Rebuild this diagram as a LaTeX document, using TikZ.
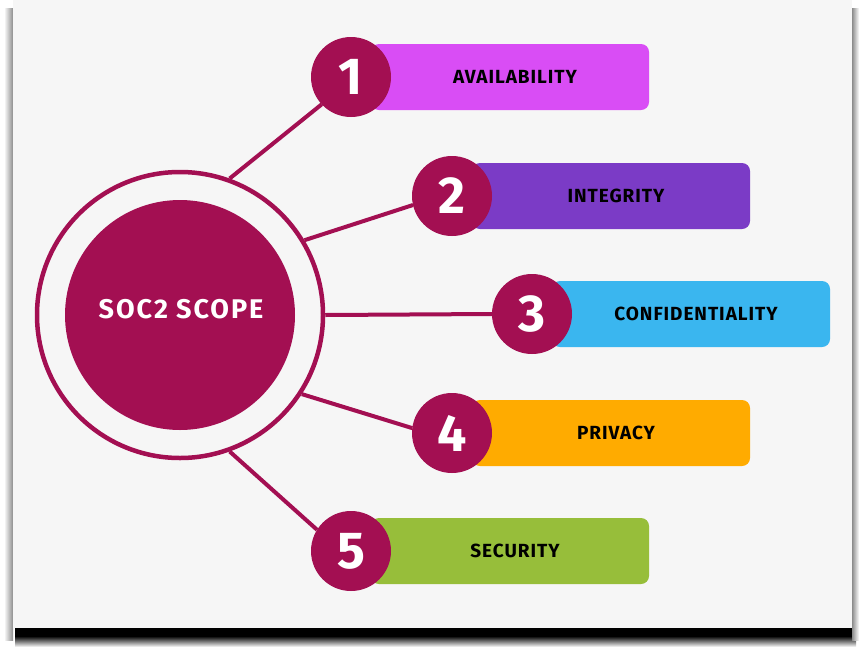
\documentclass[tikz,border=0pt]{standalone}
\usepackage{fontspec}
\setmainfont{Fira Sans}
\usetikzlibrary{positioning,backgrounds}
\usepackage{xcolor}
\definecolor{socred}{HTML}{A30F52}
\definecolor{panelgray}{HTML}{F6F6F6}
\definecolor{availc}{HTML}{D94DF5}
\definecolor{integc}{HTML}{7B3BC6}
\definecolor{confc}{HTML}{3AB6EF}
\definecolor{privc}{HTML}{FFAB00}
\definecolor{securc}{HTML}{97BE3A}

\begin{document}
\begin{tikzpicture}[
    x=1pt, y=-1pt,
    corenode/.style={circle, fill=socred, minimum size=230pt, inner sep=0pt, outer sep=0pt, text=white, font=\bfseries\fontsize{27}{30}\selectfont\addfontfeatures{LetterSpace=7}},
    ringnode/.style={circle, draw=socred, line width=4.5pt, minimum size=286pt, inner sep=0pt},
    numnode/.style={circle, fill=socred, minimum size=80pt, inner sep=0pt, outer sep=0pt, text=white, font=\bfseries\fontsize{52}{56}\selectfont},
    barbox/.style={rectangle, rounded corners=8pt, minimum width=278pt, minimum height=66pt, inner sep=0pt, outer sep=0pt},
    barlabel/.style={font=\bfseries\fontsize{19}{22}\selectfont\addfontfeatures{LetterSpace=5}, text=black, inner sep=0pt},
    link/.style={draw=socred, line width=4pt}
]
  \useasboundingbox (0,0) rectangle (865,654);

  % Panel and shadow
  \begin{pgfonlayer}{background}
    \shade[top color=black, bottom color=white] (15,636) rectangle (856,647);
    \fill[black] (15,627) rectangle (856,637);
    \shade[left color=white, right color=black!45] (4,8) rectangle (13,640);
    \shade[left color=black!45, right color=white] (852,8) rectangle (859,640);
    \fill[panelgray] (13,0) rectangle (852,628);
  \end{pgfonlayer}

  % Nodes
  \node (ring) [ringnode] at (180,315) {};
  \node (core) [corenode] at (180,315) {};
  \node (title) [text=white, font=\bfseries\fontsize{27}{30}\selectfont\addfontfeatures{LetterSpace=7}, inner sep=0pt] at (181,309) {SOC2 SCOPE};

  \node (n1) [numnode] at (351,77) {1};
  \node (n2) [numnode] at (452,196) {2};
  \node (n3) [numnode] at (532,314) {3};
  \node (n4) [numnode] at (452,433) {4};
  \node (n5) [numnode] at (351,551) {5};

  \begin{pgfonlayer}{background}
    \node (b1) [barbox, fill=availc, right=-20pt of n1] {};
    \node (b2) [barbox, fill=integc, right=-20pt of n2] {};
    \node (b3) [barbox, fill=confc, right=-20pt of n3] {};
    \node (b4) [barbox, fill=privc, right=-20pt of n4] {};
    \node (b5) [barbox, fill=securc, right=-20pt of n5] {};
  \end{pgfonlayer}

  \node (t1) [barlabel] at ([xshift=5pt]b1.center) {AVAILABILITY};
  \node (t2) [barlabel] at ([xshift=5pt]b2.center) {INTEGRITY};
  \node (t3) [barlabel] at ([xshift=5pt]b3.center) {CONFIDENTIALITY};
  \node (t4) [barlabel] at ([xshift=5pt]b4.center) {PRIVACY};
  \node (t5) [barlabel] at ([xshift=5pt]b5.center) {SECURITY};

  % Connectors
  \draw [link] (ring.70) -- (n1.223);
  \draw [link] (ring.31) -- (n2.193);
  \draw [link] (ring.0) -- (n3.180);
  \draw [link] (ring.-33) -- (n4.173);
  \draw [link] (ring.-70) -- (n5.148);
\end{tikzpicture}
\end{document}
